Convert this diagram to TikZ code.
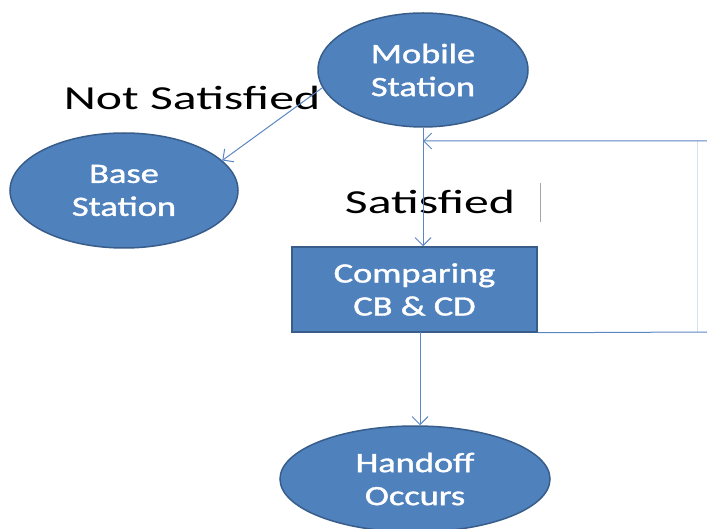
\documentclass[tikz,border=0pt]{standalone}
\usepackage{fontspec}
\setmainfont{Carlito}
\newfontfamily\nodefont[FakeBold=1.2]{Carlito}
\usepackage{graphicx}
\usetikzlibrary{arrows.meta,shapes.geometric}
\definecolor{nodefill}{HTML}{4F81BD}
\definecolor{nodeedge}{HTML}{385D8A}
\definecolor{linkcol}{HTML}{5A86C3}
\newcommand{\nodetxt}[1]{\scalebox{1.3}[1]{#1}}
\newcommand{\labtxt}[1]{\scalebox{1.48}[1]{#1}}
\begin{document}
\begin{tikzpicture}[x=1pt,y=-1pt,
  stnode/.style={ellipse,fill=nodefill,draw=nodeedge,line width=1.5pt,inner sep=0pt,
     text=white,align=center,font=\nodefont\fontsize{28}{33}\selectfont},
  boxnode/.style={rectangle,fill=nodefill,draw=nodeedge,line width=1.5pt,inner sep=0pt,
     text=white,align=center,font=\nodefont\fontsize{28}{33}\selectfont,
     minimum width=245pt,minimum height=85pt},
  lab/.style={font=\fontsize{33.6}{36}\selectfont,text=black,inner sep=0pt},
  link/.style={draw=linkcol,line width=1pt},
  arr/.style={link,-{Straight Barb[length=8pt,width=16pt,line width=1pt]}}]
\useasboundingbox (0,0) rectangle (707,529);
\node[stnode,minimum width=210pt,minimum height=114pt] (ms) at (423,70)
  {\nodetxt{Mobile}\\\nodetxt{Station}};
\node[stnode,minimum width=228pt,minimum height=115pt] (bs) at (124,190.5)
  {\nodetxt{Base}\\\nodetxt{Station}};
\node[boxnode] (cmp) at (414.5,289.5)
  {\nodetxt{Comparing}\\\nodetxt{CB \& CD}};
\node[stnode,minimum width=270pt,minimum height=106pt] (ho) at (415,479)
  {\nodetxt{Handoff}\\\nodetxt{Occurs}};
\node[lab] (ns) at (192,98) {\labtxt{Not Satisfied}};
\node[lab] (sat) at (430,202) {\labtxt{Satisfied}};
\coordinate (cb) at (540,183);
\coordinate (ce) at (540,222);
\draw[gray!70,line width=0.8pt] (cb) -- (ce);
\coordinate (rb) at (708,332);
\coordinate (rt) at (708,141);
\coordinate (fb) at (697,332);
\coordinate (ft) at (697,141);
\coordinate (cbot) at (420,332);
\draw[linkcol!25,line width=0.8pt] (fb) -- (ft);
\draw[arr] (ms.190) -- (bs.17);
\draw[arr] (ms.south) -- (ms.south |- cmp.north);
\draw[arr] (cmp.south east) -- (rb) -- (rt) -- (ms.south |- rt);
\draw[arr] (cbot) -- (cbot |- ho.north);
\end{tikzpicture}
\end{document}
